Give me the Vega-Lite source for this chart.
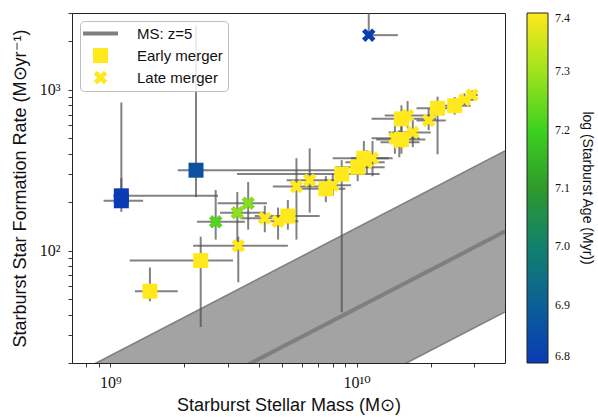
{
  "$schema": "https://vega.github.io/schema/vega-lite/v6.json",
  "autosize": {"type": "none"},
  "padding": {"left": 72, "top": 13, "right": 93, "bottom": 55},
  "width": 433,
  "height": 350,
  "background": "white",
  "config": {
    "view": {"stroke": "#222", "strokeWidth": 1},
    "axis": {
      "domain": false,
      "grid": false,
      "tickColor": "#222",
      "tickSize": 4,
      "tickWidth": 0.9,
      "labelColor": "#111",
      "labelFont": "Liberation Serif, DejaVu Serif",
      "labelFontSize": 16,
      "titleFont": "Liberation Sans, Arial, sans-serif",
      "titleFontSize": 18,
      "titleFontWeight": "normal",
      "titleColor": "#111"
    }
  },
  "datasets": {
    "ms": [
      {"m": 7e8, "sfr": 5.28, "lo": 1.67, "hi": 16.7},
      {"m": 4e10, "sfr": 131.7, "lo": 41.6, "hi": 416.6}
    ],
    "pts": [
      {"merger": "Late merger", "m": 1.12e10, "sfr": 2185, "mlo": 1.1e10, "mhi": 1.47e10, "slo": 2185, "shi": 5000, "age": 6.81},
      {"merger": "Late merger", "m": 2.68e9, "sfr": 151, "mlo": 2.25e9, "mhi": 3.52e9, "slo": 117, "shi": 238, "age": 7.22},
      {"merger": "Late merger", "m": 3.28e9, "sfr": 172, "mlo": 2.79e9, "mhi": 4.24e9, "slo": 101, "shi": 231, "age": 7.28},
      {"merger": "Late merger", "m": 3.63e9, "sfr": 197, "mlo": 2.73e9, "mhi": 4.33e9, "slo": 135, "shi": 267, "age": 7.27},
      {"merger": "Late merger", "m": 3.31e9, "sfr": 107, "mlo": 2.17e9, "mhi": 5.26e9, "slo": 63.5, "shi": 122, "age": 7.4},
      {"merger": "Late merger", "m": 4.24e9, "sfr": 159, "mlo": 3.4e9, "mhi": 5.2e9, "slo": 130, "shi": 190, "age": 7.4},
      {"merger": "Late merger", "m": 4.8e9, "sfr": 152, "mlo": 4.0e9, "mhi": 5.8e9, "slo": 117, "shi": 185, "age": 7.4},
      {"merger": "Late merger", "m": 5.7e9, "sfr": 250, "mlo": 4.57e9, "mhi": 7.5e9, "slo": 117, "shi": 375, "age": 7.4},
      {"merger": "Late merger", "m": 6.45e9, "sfr": 274, "mlo": 5.2e9, "mhi": 8.1e9, "slo": 172, "shi": 432, "age": 7.4},
      {"merger": "Late merger", "m": 8.0e9, "sfr": 255, "mlo": 7.0e9, "mhi": 9.5e9, "slo": 220, "shi": 300, "age": 7.4},
      {"merger": "Late merger", "m": 1.16e10, "sfr": 375, "mlo": 9.5e9, "mhi": 1.4e10, "slo": 290, "shi": 480, "age": 7.4},
      {"merger": "Late merger", "m": 1.1e10, "sfr": 354, "mlo": 9.0e9, "mhi": 1.3e10, "slo": 300, "shi": 420, "age": 7.4},
      {"merger": "Late merger", "m": 1.43e10, "sfr": 499, "mlo": 1.15e10, "mhi": 1.8e10, "slo": 400, "shi": 620, "age": 7.4},
      {"merger": "Late merger", "m": 1.49e10, "sfr": 471, "mlo": 1.25e10, "mhi": 1.8e10, "slo": 380, "shi": 560, "age": 7.4},
      {"merger": "Late merger", "m": 1.69e10, "sfr": 543, "mlo": 1.35e10, "mhi": 2.0e10, "slo": 440, "shi": 650, "age": 7.4},
      {"merger": "Late merger", "m": 1.61e10, "sfr": 691, "mlo": 1.3e10, "mhi": 2.1e10, "slo": 580, "shi": 850, "age": 7.4},
      {"merger": "Late merger", "m": 1.96e10, "sfr": 644, "mlo": 1.75e10, "mhi": 2.3e10, "slo": 560, "shi": 760, "age": 7.4},
      {"merger": "Late merger", "m": 2.74e10, "sfr": 867, "mlo": 2.5e10, "mhi": 3.0e10, "slo": 800, "shi": 950, "age": 7.4},
      {"merger": "Late merger", "m": 2.94e10, "sfr": 927, "mlo": 2.8e10, "mhi": 3.1e10, "slo": 870, "shi": 990, "age": 7.4},
      {"merger": "Early merger", "m": 1.11e9, "sfr": 219, "mlo": 1.03e9, "mhi": 2.74e9, "slo": 192, "shi": 832, "age": 6.8},
      {"merger": "Early merger", "m": 1.11e9, "sfr": 204, "mlo": 9.4e8, "mhi": 1.36e9, "slo": 174, "shi": 282, "age": 6.8},
      {"merger": "Early merger", "m": 2.23e9, "sfr": 316, "mlo": 1.88e9, "mhi": 8.5e9, "slo": 215, "shi": 2500, "age": 6.86},
      {"merger": "Early merger", "m": 1.45e9, "sfr": 55.9, "mlo": 1.26e9, "mhi": 1.88e9, "slo": 48.4, "shi": 78.5, "age": 7.4},
      {"merger": "Early merger", "m": 2.33e9, "sfr": 86.7, "mlo": 1.2e9, "mhi": 3.15e9, "slo": 33.5, "shi": 122, "age": 7.4},
      {"merger": "Early merger", "m": 5.26e9, "sfr": 164, "mlo": 3.86e9, "mhi": 7.08e9, "slo": 135, "shi": 206, "age": 7.4},
      {"merger": "Early merger", "m": 7.5e9, "sfr": 242, "mlo": 5.88e9, "mhi": 9.0e9, "slo": 200, "shi": 290, "age": 7.4},
      {"merger": "Early merger", "m": 8.7e9, "sfr": 299, "mlo": 3.27e9, "mhi": 1.24e10, "slo": 41.4, "shi": 365, "age": 7.4},
      {"merger": "Early merger", "m": 1.01e10, "sfr": 330, "mlo": 8.2e9, "mhi": 1.3e10, "slo": 270, "shi": 400, "age": 7.4},
      {"merger": "Early merger", "m": 1.07e10, "sfr": 375, "mlo": 8.0e9, "mhi": 1.35e10, "slo": 300, "shi": 480, "age": 7.4},
      {"merger": "Early merger", "m": 1.52e10, "sfr": 659, "mlo": 1.15e10, "mhi": 2.1e10, "slo": 520, "shi": 800, "age": 7.4},
      {"merger": "Early merger", "m": 1.52e10, "sfr": 491, "mlo": 1.2e10, "mhi": 1.9e10, "slo": 400, "shi": 600, "age": 7.4},
      {"merger": "Early merger", "m": 2.13e10, "sfr": 767, "mlo": 1.75e10, "mhi": 2.6e10, "slo": 397, "shi": 906, "age": 7.4},
      {"merger": "Early merger", "m": 2.5e10, "sfr": 796, "mlo": 2.2e10, "mhi": 2.9e10, "slo": 700, "shi": 900, "age": 7.4}
    ]
  },
  "encoding": {
    "x": {
      "field": "m", "type": "quantitative",
      "scale": {"type": "log", "domain": [7e8, 4e10], "nice": false},
      "axis": {
        "title": "Starburst Stellar Mass (M⊙)",
        "titlePadding": 6,
        "values": [8e8, 9e8, 1e9, 2e9, 3e9, 4e9, 5e9, 6e9, 7e9, 8e9, 9e9, 1e10, 2e10, 3e10],
        "labelExpr": "datum.value == 1e9 ? '10⁹' : datum.value == 1e10 ? '10¹⁰' : ''",
        "labelPadding": 7,
        "labelFlush": false,
        "labelOverlap": false
      }
    },
    "y": {
      "field": "sfr", "type": "quantitative",
      "scale": {"type": "log", "domain": [20, 3000], "nice": false},
      "axis": {
        "title": "Starburst Star Formation Rate (M⊙yr⁻¹)",
        "titlePadding": 10,
        "values": [20, 30, 40, 50, 60, 70, 80, 90, 100, 200, 300, 400, 500, 600, 700, 800, 900, 1000, 2000, 3000],
        "labelExpr": "datum.value == 100 ? '10²' : datum.value == 1000 ? '10³' : ''",
        "labelPadding": 8,
        "labelFlush": false,
        "labelOverlap": false
      }
    }
  },
  "layer": [
    {
      "data": {"name": "ms"},
      "mark": {"type": "area", "clip": true, "fill": "#a3a3a3", "opacity": 1},
      "encoding": {
        "y": {"field": "hi", "type": "quantitative"},
        "y2": {"field": "lo"}
      }
    },
    {
      "data": {"name": "ms"},
      "mark": {"type": "line", "clip": true, "stroke": "#7f7f7f", "strokeWidth": 1.6},
      "encoding": {
        "y": {"field": "hi", "type": "quantitative"}
      }
    },
    {
      "data": {"name": "ms"},
      "mark": {"type": "line", "clip": true, "stroke": "#7f7f7f", "strokeWidth": 1.6},
      "encoding": {
        "y": {"field": "lo", "type": "quantitative"}
      }
    },
    {
      "data": {"name": "ms"},
      "mark": {"type": "line", "clip": true, "stroke": "#7f7f7f", "strokeWidth": 4},
      "encoding": {}
    },
    {
      "data": {"name": "pts"},
      "mark": {"type": "rule", "clip": true, "stroke": "#4d4d4d", "strokeOpacity": 0.7, "strokeWidth": 2},
      "encoding": {
        "x": {"field": "mlo", "type": "quantitative"},
        "x2": {"field": "mhi"}
      }
    },
    {
      "data": {"name": "pts"},
      "mark": {"type": "rule", "clip": true, "stroke": "#4d4d4d", "strokeOpacity": 0.7, "strokeWidth": 2},
      "encoding": {
        "y": {"field": "slo", "type": "quantitative"},
        "y2": {"field": "shi"}
      }
    },
    {
      "data": {"name": "pts"},
      "mark": {"type": "point", "filled": true, "opacity": 1, "size": 225, "strokeWidth": 0, "clip": true},
      "encoding": {
        "shape": {
          "field": "merger", "type": "nominal",
          "scale": {
            "domain": ["MS: z=5", "Early merger", "Late merger"],
            "range": [
              "M-2.333,-0.267H2.333V0.267H-2.333Z",
              "square",
              "M0.45,-0.9L0.9,-0.45L0.45,0L0.9,0.45L0.45,0.9L0,0.45L-0.45,0.9L-0.9,0.45L-0.45,0L-0.9,-0.45L-0.45,-0.9L0,-0.45Z"
            ]
          },
          "legend": {
            "title": null,
            "orient": "none",
            "legendX": 8,
            "legendY": 8,
            "padding": 5,
            "fillColor": "rgba(255,255,255,0.85)",
            "strokeColor": "#bdbdbd",
            "cornerRadius": 4,
            "symbolSize": 225,
            "symbolStrokeWidth": 0,
            "symbolOffset": 8,
            "symbolOpacity": 1,
            "labelOffset": 29,
            "rowPadding": 6,
            "labelFont": "Liberation Sans, Arial, sans-serif",
            "labelFontSize": 15,
            "labelColor": "#111",
            "encoding": {
              "symbols": {
                "fill": {"value": {"expr": "datum.value === 'MS: z=5' ? '#7f7f7f' : '#ffe91c'"}}
              }
            }
          }
        },
        "color": {
          "field": "age", "type": "quantitative",
          "scale": {
            "domain": [6.8, 6.9, 7.0, 7.1, 7.2, 7.3, 7.4],
            "range": ["#0a3bb5", "#0b6096", "#12806c", "#2e9a2c", "#3ed21e", "#a0e31c", "#ffe91c"],
            "clamp": true,
            "interpolate": "rgb"
          },
          "legend": {
            "title": "log (Starburst Age (Myr))",
            "orient": "none",
            "legendX": 455,
            "legendY": 0,
            "padding": 0,
            "direction": "vertical",
            "gradientLength": 350,
            "gradientThickness": 21,
            "gradientStrokeColor": "#222",
            "gradientStrokeWidth": 1,
            "values": [6.8, 6.9, 7.0, 7.1, 7.2, 7.3, 7.4],
            "format": ".1f",
            "labelFont": "Liberation Serif, DejaVu Serif",
            "labelFontSize": 12,
            "labelColor": "#111",
            "labelOffset": 7,
            "labelBaseline": "middle",
            "labelOverlap": false,
            "titleOrient": "right",
            "titleAngle": 270,
            "titleAnchor": "middle",
            "titleBaseline": "bottom",
            "titleFont": "Liberation Sans, Arial, sans-serif",
            "titleFontSize": 14,
            "titleFontWeight": "normal",
            "titleColor": "#111",
            "titlePadding": 10
          }
        }
      }
    }
  ]
}
